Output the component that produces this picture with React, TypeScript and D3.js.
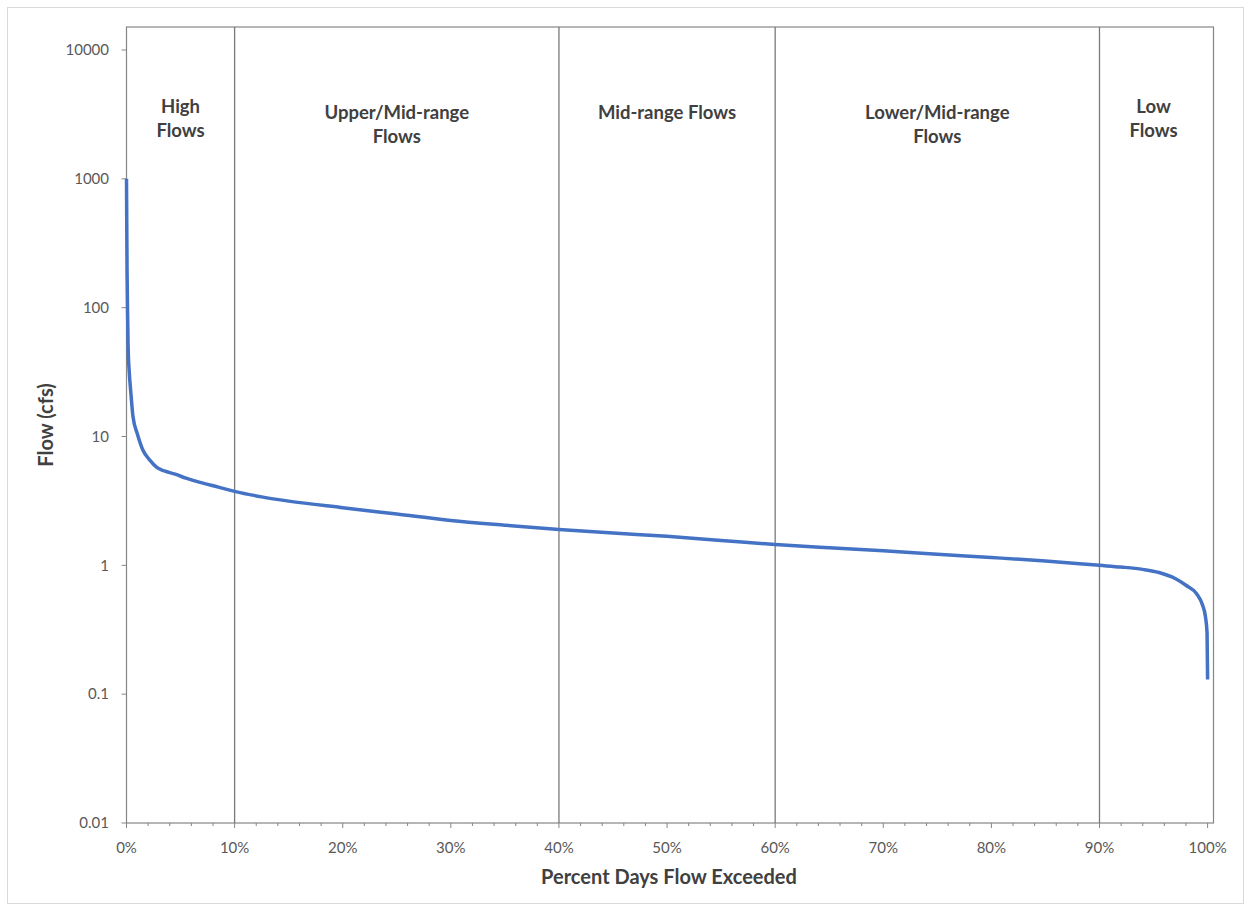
import React from "react";
import * as d3 from "d3";

const pctExceeded = [0, 0.02, 0.05, 0.1, 0.15, 0.25, 0.4, 0.6, 1.0, 1.5, 2.2, 2.8, 3.5, 4.5, 5.5, 6.8, 8.5, 10, 12.5, 15, 20, 25, 30, 35, 40, 45, 50, 55, 60, 65, 70, 75, 80, 85, 90, 92, 94, 95.5, 97, 98, 99, 99.5, 99.8, 99.95, 100];
const flowCfs = [1000, 500, 200, 90, 50, 32, 22, 14.3, 10.5, 7.9, 6.5, 5.75, 5.4, 5.1, 4.75, 4.4, 4.05, 3.75, 3.4, 3.15, 2.8, 2.5, 2.23, 2.05, 1.9, 1.78, 1.68, 1.56, 1.45, 1.37, 1.3, 1.22, 1.15, 1.08, 1.0, 0.97, 0.93, 0.88, 0.79, 0.7, 0.6, 0.5, 0.4, 0.3, 0.13];

const yTicks = [0.01, 0.1, 1, 10, 100, 1000, 10000];
const yTickLabels = ["0.01", "0.1", "1", "10", "100", "1000", "10000"];
const xTicks = [0, 10, 20, 30, 40, 50, 60, 70, 80, 90, 100];
const zoneBounds = [10, 40, 60, 90];
const zoneLabels = [
  { center: 5, lines: ["High", "Flows"] },
  { center: 25, lines: ["Upper/Mid-range", "Flows"] },
  { center: 50, lines: ["Mid-range Flows"] },
  { center: 75, lines: ["Lower/Mid-range", "Flows"] },
  { center: 95, lines: ["Low", "Flows"] },
];

export default function App() {
  const W = 1244, H = 906;
  const left = 126.5, right = 1207.6, bottom = 823, top = 27, plotRight = 1213.5;
  const x = d3.scaleLinear().domain([0, 100]).range([left, right]);
  const y = d3.scaleLog().domain([0.01, 10000]).range([bottom, 50]);
  const line = d3.line<number>().x((_, i) => x(pctExceeded[i])).y((d) => y(d)).curve(d3.curveMonotoneX);
  const minor = d3.range(0, 101, 2).filter((v) => v % 10 !== 0);
  const font = "Lato, 'Open Sans', sans-serif";
  const axisColor = "#868686";
  return (
    <svg width={W} height={H} style={{ position: "absolute", left: 0, top: 0, background: "#fff" }} fontFamily={font}>
      <rect x={7.5} y={7.5} width={1236} height={896} fill="#fff" stroke="#d9d9d9" />
      <rect x={left} y={top} width={plotRight - left} height={bottom - top} fill="none" stroke={axisColor} strokeWidth={1.2} />
      {zoneBounds.map((b) => (
        <line key={b} x1={x(b)} x2={x(b)} y1={top} y2={bottom} stroke="#7a7a7a" strokeWidth={1.3} />
      ))}
      {yTicks.map((t, i) => (
        <g key={t}>
          <line x1={left - 5} x2={left} y1={y(t)} y2={y(t)} stroke={axisColor} />
          <text x={109} y={y(t)} dy="0.35em" textAnchor="end" fontSize={15} fill="#595959">{yTickLabels[i]}</text>
        </g>
      ))}
      {xTicks.map((t) => (
        <g key={t}>
          <line x1={x(t)} x2={x(t)} y1={bottom} y2={bottom + 5} stroke={axisColor} />
          <text x={x(t)} y={848} dy="0.35em" textAnchor="middle" fontSize={15} fill="#595959">{t}%</text>
        </g>
      ))}
      {minor.map((t) => (
        <line key={t} x1={x(t)} x2={x(t)} y1={bottom} y2={bottom + 3} stroke={axisColor} />
      ))}
      <path d={line(flowCfs) || ""} fill="none" stroke="#4472C4" strokeWidth={3.5} strokeLinejoin="round" />
      {zoneLabels.map((z) => (
        <text key={z.center} x={x(z.center)} textAnchor="middle" fontSize={18.5} fontWeight="bold" fill="#404040">
          {z.lines.map((l, i) => (
            <tspan key={i} x={x(z.center)} y={(z.lines.length === 1 ? 113 : z.center === 5 || z.center === 95 ? 107 : 113) + i * 23.5} dy="0.35em">{l}</tspan>
          ))}
        </text>
      ))}
      <text x={669} y={877} dy="0.35em" textAnchor="middle" fontSize={20} fontWeight="bold" fill="#404040">Percent Days Flow Exceeded</text>
      <text transform={`translate(46,${(top + bottom) / 2}) rotate(-90)`} dy="0.35em" textAnchor="middle" fontSize={20} fontWeight="bold" fill="#404040">Flow (cfs)</text>
    </svg>
  );
}
